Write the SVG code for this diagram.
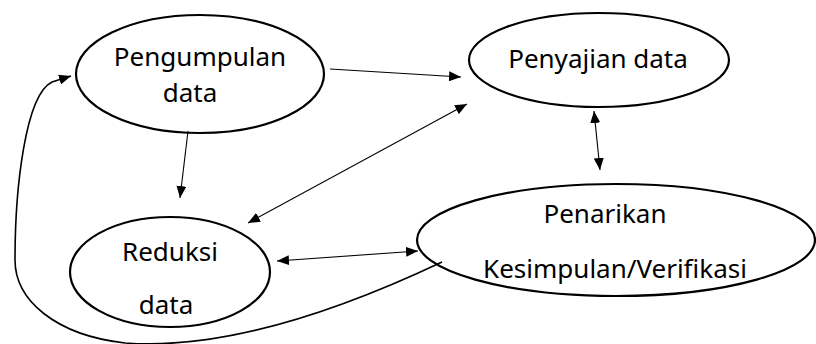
<svg xmlns="http://www.w3.org/2000/svg" width="816" height="344" viewBox="0 0 816 344">
<style>
.node{fill:none;stroke:#000;stroke-width:2.2}
.lbl{font-family:"Noto Sans","Open Sans",sans-serif;font-size:26px;fill:#000;text-anchor:middle}
.c{fill:none;stroke:#000;stroke-width:1.1}
.cc{fill:none;stroke:#000;stroke-width:1.6}
</style>
<defs>
<marker id="ah" viewBox="0 0 12 10" refX="12" refY="5" markerWidth="12" markerHeight="10" markerUnits="userSpaceOnUse" orient="auto-start-reverse">
<path d="M0,0 L12,5 L0,10 Z" fill="#000"/>
</marker>
</defs>
<rect width="816" height="344" fill="#fff"/>
<g id="n-pengumpulan">
<ellipse class="node" cx="200" cy="74" rx="124" ry="59"/>
<text class="lbl" x="200" y="66">Pengumpulan</text>
<text class="lbl" x="190" y="102">data</text>
</g>
<g id="n-penyajian">
<ellipse class="node" cx="599" cy="60" rx="130" ry="47"/>
<text class="lbl" x="598" y="68">Penyajian data</text>
</g>
<g id="n-reduksi">
<ellipse class="node" cx="170" cy="272" rx="100" ry="55"/>
<text class="lbl" x="170" y="261">Reduksi</text>
<text class="lbl" x="166" y="314">data</text>
</g>
<g id="n-penarikan">
<ellipse class="node" cx="616" cy="240" rx="199" ry="56"/>
<text class="lbl" x="605" y="223">Penarikan</text>
<text class="lbl" x="615" y="278">Kesimpulan/Verifikasi</text>
</g>
<g id="connectors">
<line class="c" x1="330" y1="69" x2="461" y2="77" marker-end="url(#ah)"/>
<line class="c" x1="248" y1="223" x2="467" y2="104" marker-start="url(#ah)" marker-end="url(#ah)"/>
<line class="c" x1="188" y1="131" x2="180" y2="198" marker-end="url(#ah)"/>
<line class="c" x1="594" y1="111" x2="600" y2="170" marker-start="url(#ah)" marker-end="url(#ah)"/>
<line class="c" x1="277" y1="261" x2="418" y2="251" marker-start="url(#ah)" marker-end="url(#ah)"/>
<path class="cc" d="M442,262 C330,315 220,350 125,343 C55,335 15,300 15,260 C15,190 25,95 52,82 L71,76" marker-end="url(#ah)"/>
</g>
</svg>
